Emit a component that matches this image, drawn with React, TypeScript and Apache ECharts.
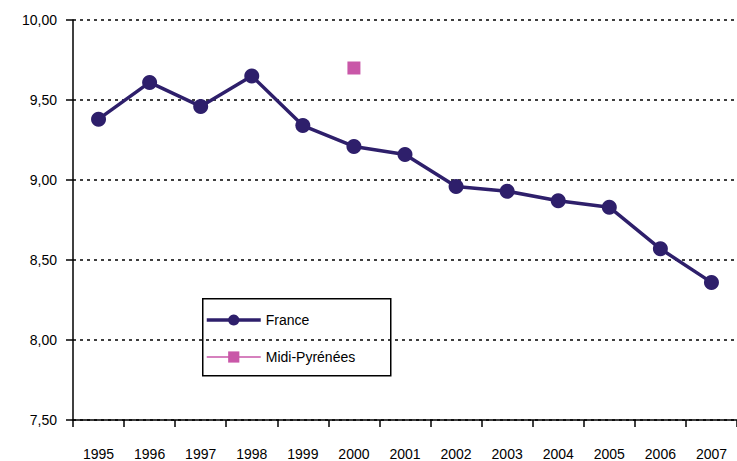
import React, { useEffect, useRef } from "react";
import * as echarts from "echarts";

const years = ["1995", "1996", "1997", "1998", "1999", "2000", "2001", "2002", "2003", "2004", "2005", "2006", "2007"];
const france = [9.38, 9.61, 9.46, 9.65, 9.34, 9.21, 9.16, 8.96, 8.93, 8.87, 8.83, 8.57, 8.36];
const midiPyrenees = [null, null, null, null, null, 9.70, null, null, null, null, null, null, null];

const FONT = "'Liberation Sans', Arial, sans-serif";

export default function App() {
  const ref = useRef<HTMLDivElement>(null);
  useEffect(() => {
    if (!ref.current) return;
    const chart = echarts.init(ref.current, undefined, { renderer: "svg" });
    chart.setOption({
      animation: false,
      backgroundColor: "#fff",
      grid: { left: 73, top: 20, right: 0, bottom: 38, containLabel: false },
      xAxis: {
        type: "category",
        data: years,
        boundaryGap: true,
        axisLine: { lineStyle: { color: "#000", width: 1.5 } },
        axisTick: { show: true, length: 7, lineStyle: { color: "#000", width: 1.5 } },
        axisLabel: { color: "#000", fontFamily: FONT, fontSize: 14, margin: 27, interval: 0 },
        splitLine: { show: false },
      },
      yAxis: {
        type: "value",
        min: 7.5,
        max: 10,
        interval: 0.5,
        axisLine: { show: true, lineStyle: { color: "#000", width: 1.5 } },
        axisTick: { show: true, length: 7, lineStyle: { color: "#000", width: 1.5 } },
        axisLabel: {
          color: "#000",
          fontFamily: FONT,
          fontSize: 14,
          margin: 16,
          formatter: (v: number) => v.toFixed(2).replace(".", ","),
        },
        splitLine: { show: true, lineStyle: { color: "#000", width: 1.5, type: [3, 4] } },
      },
      legend: {
        orient: "vertical",
        left: 205,
        top: 313,
        itemWidth: 54,
        itemHeight: 14,
        itemGap: 23,
        padding: 0,
        textStyle: { color: "#000", fontFamily: FONT, fontSize: 14 },
        data: [
          { name: "France", lineStyle: { width: 3.5, color: "#2E1F6B" } },
          { name: "Midi-Pyrénées", lineStyle: { width: 1.5, color: "#C957A8" } },
        ],
      },
      graphic: [
        {
          type: "rect",
          left: 202,
          top: 298,
          shape: { width: 188, height: 77 },
          style: { fill: "#fff", stroke: "#000", lineWidth: 1.5 },
          z: -1,
        },
      ],
      series: [
        {
          name: "France",
          type: "line",
          data: france,
          symbol: "circle",
          symbolSize: 15,
          itemStyle: { color: "#2E1F6B" },
          lineStyle: { color: "#2E1F6B", width: 3.5 },
          z: 3,
        },
        {
          name: "Midi-Pyrénées",
          type: "line",
          data: midiPyrenees,
          symbol: "rect",
          symbolSize: 13,
          itemStyle: { color: "#C957A8" },
          lineStyle: { color: "#C957A8", width: 1.5 },
          z: 3,
        },
      ],
    });
    return () => chart.dispose();
  }, []);
  return <div ref={ref} style={{ width: 737, height: 461, position: "absolute", left: 0, top: 0 }} />;
}
